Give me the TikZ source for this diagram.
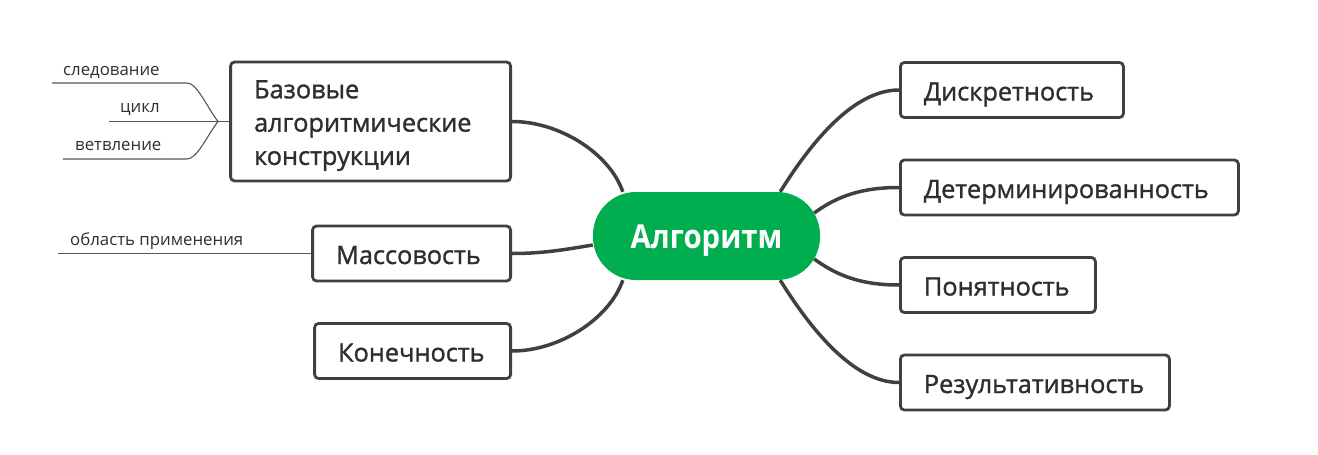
\documentclass[tikz,border=0pt]{standalone}
\usepackage{fontspec}
\setmainfont{Open Sans}
\newfontfamily\boxfont{Open Sans}[FakeBold=1.2]
\newfontfamily\algfont{Open Sans}[FakeStretch=0.89]
\usetikzlibrary{backgrounds,calc}
\definecolor{algGreen}{HTML}{00AE4F}
\definecolor{lineGray}{HTML}{404040}
\definecolor{thinGray}{HTML}{555555}
\definecolor{textGray}{HTML}{2E2E2E}
\begin{document}
\begin{tikzpicture}[x=1pt,y=-1pt,
  topicbox/.style={draw=lineGray, line width=2.8pt, rounded corners=4pt, fill=white,
    minimum height=55pt, inner xsep=23.5pt, inner ysep=0pt, align=left,
    font=\boxfont\fontsize{25.3}{33.3}\selectfont, text=textGray, text height=21pt, text depth=0pt},
  conn/.style={draw=lineGray, line width=3.5pt},
  thinline/.style={draw=thinGray, line width=1.1pt},
  small/.style={font=\fontsize{16.8}{19}\selectfont, text=textGray, inner sep=0pt, anchor=base west}
]
\useasboundingbox (0,0) rectangle (1318,455);

% central topic
\node[fill=algGreen, rounded corners=43pt, minimum width=227pt, minimum height=88pt,
  text=white, font=\algfont\bfseries\fontsize{33}{33}\selectfont, inner sep=0pt,
  text height=24pt, text depth=0pt] (alg) at (706.5,236) {Алгоритм};

% right topics
\node[topicbox, text width=176pt, anchor=west] (d1) at (899,90) {Дискретность};
\node[topicbox, text width=291pt, anchor=west] (d2) at (899,187.5) {Детерминированность};
\node[topicbox, text width=148pt, anchor=west] (d3) at (899,285) {Понятность};
\node[topicbox, text width=222pt, anchor=west] (d4) at (899,382.5) {Результативность};

% left topics
\node[topicbox, text width=233pt, anchor=east, minimum height=119pt,
  text height=25.6pt, text depth=72pt] (b1) at (512,121.5) {Базовые\\алгоритмические\\конструкции};
\node[topicbox, text width=151pt, anchor=east] (m1) at (512,253.5) {Массовость};
\node[topicbox, text width=149pt, anchor=east] (k1) at (512,351) {Конечность};

% small subtopics
\node[small] (t1) at (63,75) {следование};
\node[small] (t2) at (120,112.7) {цикл};
\node[small] (t3) at (75,150) {ветвление};
\node[small] (t4) at (70,245) {область применения};

\coordinate (j) at (218,121.5);
\coordinate (s1) at (52,83);
\coordinate (s2) at (109,121.5);
\coordinate (s3) at (63,159);
\coordinate (o1) at (58,253.5);

\begin{scope}[on background layer]
\draw[conn] ([xshift=-40pt]alg.north east) .. controls +(33,-53) and +(-44,0) .. (d1.west);
\draw[conn] ([xshift=-6pt,yshift=23pt]alg.east) .. controls +(22,-16) and +(-39,0) .. (d2.west);
\draw[conn] ([xshift=-6pt,yshift=-23pt]alg.east) .. controls +(22,16) and +(-39,0) .. (d3.west);
\draw[conn] ([xshift=-40pt]alg.south east) .. controls +(33,53) and +(-44,0) .. (d4.west);
\draw[conn] ([xshift=30pt]alg.north west) .. controls +(-13,-38) and +(48,0) .. (b1.east);
\draw[conn] ([yshift=-9pt]alg.west) .. controls +(-30,5) and +(30,0) .. (m1.east);
\draw[conn] ([xshift=30pt]alg.south west) .. controls +(-13,38) and +(48,0) .. (k1.east);
\end{scope}

\draw[thinline] (s1) -- ++(135,0) .. controls +(10,0) and +(-12,-16) .. (j);
\draw[thinline] (s2) -- (j);
\draw[thinline] (s3) -- ++(124,0) .. controls +(10,0) and +(-12,16) .. (j);
\draw[thinline] (j) -- (b1.west);
\draw[thinline] (o1) -- (m1.west);
\end{tikzpicture}
\end{document}
